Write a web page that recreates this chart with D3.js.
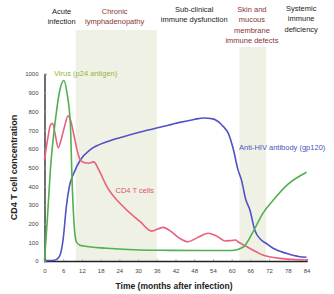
<!DOCTYPE html>
<meta charset="utf-8">
<html>
<head>
<script src="https://d3js.org/d3.v7.min.js"></script>
<style>
  body { margin: 0; background: #fff; }
  text { font-family: "Liberation Sans", Arial, sans-serif; }
</style>
</head>
<body>
<div id="chart"></div>
<script>
// months after infection
var xTicks = [0, 6, 12, 18, 24, 30, 36, 42, 48, 54, 60, 66, 72, 78, 84];
var yTicks = [0, 100, 200, 300, 400, 500, 600, 700, 800, 900, 1000];

// phase bands (start, end in months) and header labels
var bands = [[10, 36], [62.5, 71]];
var bandTops = [30, 47];
var phaseLabels = [
  {m: 5.5, lines: ["Acute", "infection"], red: false, y0: 11},
  {m: 22.5, lines: ["Chronic", "lymphadenopathy"], red: true, y0: 11},
  {m: 48, lines: ["Sub-clinical", "immune dysfunction"], red: false, y0: 9},
  {m: 66.5, lines: ["Skin and", "mucous", "membrane", "immune defects"], red: true, y0: 9},
  {m: 82.3, lines: ["Systemic", "immune", "deficiency"], red: false, y0: 8}
];

// virus (p24 antigen)
var virusM = [0, 0.9, 1.9, 3.5, 5, 6.2, 7.2, 8.3, 8.8, 9.4, 10.2, 11.2, 12.6, 20, 30.7, 40, 50, 60, 62, 64, 66.9, 70, 73.3, 78, 84];
var virusV = [0, 220, 490, 755, 920, 965, 900, 730, 450, 220, 103, 86, 80, 68, 59, 57, 56, 56, 62, 78, 157, 255, 325, 410, 475];

// CD4 T cells
var cd4M = [0, 1, 1.9, 2.6, 3.4, 4.4, 5.2, 6.2, 7.6, 8.5, 9.4, 10.5, 11.5, 13, 14.2, 15.8, 17.4, 20, 25.3, 30.7, 34.4, 36.5, 38, 40, 43, 46, 49, 52.5, 55, 58, 60, 61.3, 62, 64, 65.8, 68, 70, 72, 75.4, 78, 84];
var cd4V = [540, 650, 727, 737, 680, 605, 640, 705, 776, 745, 675, 590, 540, 525, 523, 530, 487, 398, 290, 210, 160, 172, 180, 165, 125, 103, 125, 148, 135, 107, 110, 112, 103, 85, 68, 48, 32, 23, 14, 10, 5];

// anti-HIV antibody (gp120)
var abM = [0, 2, 3, 4, 5, 6, 7, 8, 9.4, 11.5, 14.7, 20, 25.3, 30.7, 37, 43, 48, 51, 54, 57, 59, 60.5, 62, 63.2, 64.5, 65.8, 67.4, 69.5, 71, 73.3, 77.5, 81.8, 84];
var abV = [3, 3, 4, 10, 32, 120, 290, 400, 470, 540, 595, 638, 665, 690, 715, 740, 757, 765, 760, 725, 680, 600, 490, 430, 330, 275, 166, 112, 95, 68, 41, 23, 20];

var W = 334, H = 294;
var x = d3.scaleLinear().domain([0, 84]).range([44.5, 306.5]);
var y = d3.scaleLinear().domain([0, 1000]).range([261, 74]);

var svg = d3.select("#chart").append("svg")
    .attr("width", W).attr("height", H);

// shaded phases
svg.selectAll("rect.band")
  .data(bands)
  .enter().append("rect")
    .attr("class", "band")
    .attr("x", function(d) { return x(d[0]); })
    .attr("width", function(d) { return x(d[1]) - x(d[0]); })
    .attr("y", function(d, i) { return bandTops[i]; })
    .attr("height", function(d, i) { return y(0) - bandTops[i]; })
    .attr("fill", "#eff1e5");

// phase headers
phaseLabels.forEach(function(p) {
  var t = svg.append("text")
    .attr("text-anchor", "middle")
    .style("font-size", "7.5px")
    .attr("fill", p.red ? "#8a3434" : "#222");
  p.lines.forEach(function(l, i) {
    t.append("tspan")
      .attr("x", x(p.m))
      .attr("y", p.y0 + 2.5 + i * 10.5)
      .text(l);
  });
});

// axes
var xAxis = svg.append("g")
    .attr("transform", "translate(0," + y(0) + ")")
    .call(d3.axisBottom(x).tickValues(xTicks).tickSize(-2).tickPadding(8));
var yAxis = svg.append("g")
    .attr("transform", "translate(" + x(0) + ",0)")
    .call(d3.axisLeft(y).tickValues(yTicks).tickFormat(d3.format("d")).tickSize(-2).tickPadding(6));
[xAxis, yAxis].forEach(function(a) {
  a.select(".domain").attr("stroke", "#222").attr("stroke-width", 1.3);
  a.selectAll(".tick line").attr("stroke", "#aaa");
  a.selectAll(".tick text").style("font-size", "6px").attr("fill", "#444");
});

// curves
var line = d3.line()
    .x(function(d) { return x(d[0]); })
    .y(function(d) { return y(d[1]); })
    .curve(d3.curveMonotoneX);

function series(ms, vs, color) {
  svg.append("path")
    .datum(d3.zip(ms, vs))
    .attr("fill", "none")
    .attr("stroke", color)
    .attr("stroke-width", 1.6)
    .attr("d", line);
}
series(abM, abV, "#5252c8");
series(cd4M, cd4V, "#e8607c");
series(virusM, virusV, "#52b04e");

// series labels
svg.append("text").attr("x", 54).attr("y", 76).style("font-size", "7.5px")
  .attr("fill", "#8fb63c").text("Virus (p24 antigen)");
svg.append("text").attr("x", 115.5).attr("y", 193).style("font-size", "7.5px")
  .attr("fill", "#e4506c").text("CD4 T cells");
svg.append("text").attr("x", 239).attr("y", 150).style("font-size", "7.5px")
  .attr("fill", "#5050c0").text("Anti-HIV antibody (gp120)");

// axis titles
svg.append("text")
    .attr("transform", "translate(17," + y(500) + ") rotate(-90)")
    .attr("text-anchor", "middle")
    .style("font-size", "9px").style("font-weight", "bold")
    .attr("fill", "#222")
    .text("CD4 T cell concentration");
svg.append("text")
    .attr("x", 174).attr("y", 289)
    .attr("text-anchor", "middle")
    .style("font-size", "8.5px").style("font-weight", "bold")
    .attr("fill", "#222")
    .text("Time (months after infection)");
</script>
</body>
</html>
